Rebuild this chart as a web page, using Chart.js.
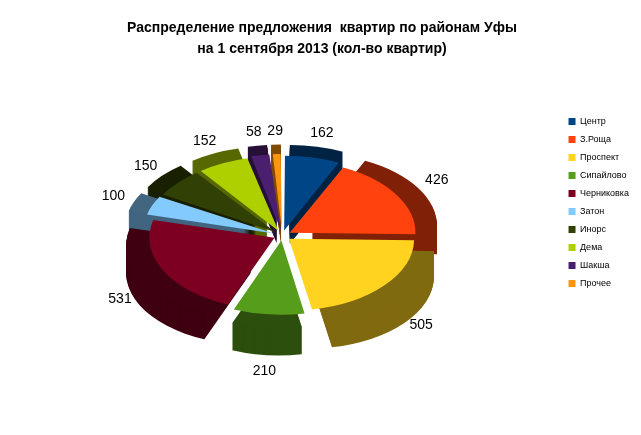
<!DOCTYPE html>
<html><head><meta charset="utf-8">
<script src="https://cdn.jsdelivr.net/npm/chart.js@4"></script>
<style>html,body{margin:0;background:#fff}#w{width:641px;height:435px}</style>
</head><body><div id="w"><canvas id="c"></canvas></div>
<script>
const categories=['Центр','З.Роща','Проспект','Сипайлово','Черниковка','Затон','Инорс','Дема','Шакша','Прочее'];
const values=[162,426,505,210,531,100,150,152,58,29];
const colors=['#004586','#ff420e','#ffd320','#579d1c','#7e0021','#83caff','#314004','#aecf00','#4b1f6f','#ff950e'];
const darks=['#002344','#802107','#806a10','#2c4f0e','#3f0011','#426580','#192002','#576800','#261038','#804b07'];
const SY=0.575, DEPTH=28;
const threeD={
 id:'threeD',
 beforeDatasetsDraw(chart){
  const ctx=chart.ctx, meta=chart.getDatasetMeta(0);
  const el0=meta.data[0]; const cx=el0.x, cy=el0.y;
  ctx.save();
  ctx.translate(cx,cy);ctx.scale(1,SY);ctx.translate(-cx,-cy);
  const off=chart.data.datasets[0].offset;
  for(let d=DEPTH;d>0;d-=1){
   meta.data.forEach((el,i)=>{
    const m=(el.startAngle+el.endAngle)/2;
    const x=el.x+Math.cos(m)*off, y=el.y+Math.sin(m)*off+d/SY;
    ctx.beginPath();ctx.moveTo(x,y);ctx.arc(x,y,el.outerRadius,el.startAngle,el.endAngle);ctx.closePath();
    ctx.fillStyle=darks[i];ctx.fill();
   });
  }
 },
 afterDatasetsDraw(chart){
  const ctx=chart.ctx;ctx.restore();
  const meta=chart.getDatasetMeta(0);const off=chart.data.datasets[0].offset;
  ctx.save();ctx.font='14px "Liberation Sans"';ctx.fillStyle='#000';ctx.textAlign='center';ctx.textBaseline='middle';
  meta.data.forEach((el,i)=>{
   const m=(el.startAngle+el.endAngle)/2;
   const R=el.outerRadius+off+22;
   let x=el.x+Math.cos(m)*R, y=el.y+Math.sin(m)*R*SY;
   if(Math.sin(m)>0) y+=DEPTH*Math.sin(m)+4;
   ctx.fillText(values[i],x,y);
  });
  ctx.restore();
 }
};
new Chart(document.getElementById('c'),{
 type:'pie',
 data:{labels:categories,datasets:[{data:values,backgroundColor:colors,borderWidth:0,offset:35}]},
 options:{responsive:true,maintainAspectRatio:false,animation:false,
  events:[],radius:125,
  layout:{padding:{left:5,right:2,top:0,bottom:30}},
  plugins:{
   title:{display:true,text:['Распределение предложения  квартир по районам Уфы','на 1 сентября 2013 (кол-во квартир)'],
    color:'#000',font:{family:'"Liberation Sans"',size:14,weight:'bold',lineHeight:1.5},padding:{top:18,bottom:6}},
   legend:{position:'right',labels:{color:'#000',boxWidth:7,boxHeight:7,padding:9,font:{family:'"Liberation Sans"',size:9}}},
   tooltip:{enabled:false}
  }},
 plugins:[threeD]
});
</script></body></html>
